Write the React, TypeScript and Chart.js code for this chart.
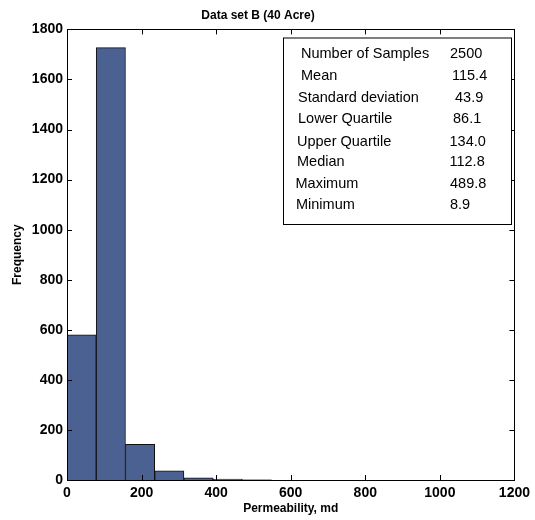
import React, { useEffect, useRef } from "react";
import { Chart, registerables } from "chart.js";

Chart.register(...registerables);

const binWidth = 78.4;
const binStarts = [0, 78.4, 156.8, 235.2, 313.6, 392.0, 470.4];
const frequencies = [580, 1727, 142, 37, 9, 4, 1];
const xTicks = [0, 200, 400, 600, 800, 1000, 1200];
const yTicks = [0, 200, 400, 600, 800, 1000, 1200, 1400, 1600, 1800];
const statLabels = [
  "Number of Samples",
  "Mean",
  "Standard deviation",
  "Lower Quartile",
  "Upper Quartile",
  "Median",
  "Maximum",
  "Minimum",
];
const statValues = ["2500", "115.4", "43.9", "86.1", "134.0", "112.8", "489.8", "8.9"];

const FONT = '"Liberation Sans", Arial, Helvetica, sans-serif';

const framePlugin = {
  id: "frame",
  afterDraw(chart: any) {
    const ctx = chart.ctx;
    const { left, right, top, bottom } = chart.chartArea;
    const xs = chart.scales.x;
    const ys = chart.scales.y;
    ctx.save();
    ctx.strokeStyle = "#000";
    ctx.lineWidth = 1;
    ctx.strokeRect(Math.round(left) + 0.5, Math.round(top) + 0.5, Math.round(right - left), Math.round(bottom - top));
    const tl = 5;
    ctx.beginPath();
    xs.ticks.forEach((t: any) => {
      const px = Math.round(xs.getPixelForValue(t.value)) + 0.5;
      ctx.moveTo(px, bottom);
      ctx.lineTo(px, bottom - tl);
      ctx.moveTo(px, top);
      ctx.lineTo(px, top + tl);
    });
    ys.ticks.forEach((t: any) => {
      const py = Math.round(ys.getPixelForValue(t.value)) + 0.5;
      ctx.moveTo(left, py);
      ctx.lineTo(left + tl, py);
      ctx.moveTo(right, py);
      ctx.lineTo(right - tl, py);
    });
    ctx.stroke();

    // statistics box
    const bx = 283, by = 37.5, bw = 228, bh = 186.5;
    ctx.fillStyle = "#fff";
    ctx.fillRect(bx, by, bw, bh);
    ctx.strokeRect(bx + 0.5, by + 0.5, bw, bh);
    ctx.fillStyle = "#000";
    ctx.font = `14.5px ${FONT}`;
    ctx.textBaseline = "middle";
    ctx.textAlign = "left";
    const labelX = [301, 301, 298, 298, 297, 297, 295.5, 296];
    const valueX = [450, 452, 455, 453, 449.5, 449.5, 450, 450];
    const rowY = [53.5, 76, 97.7, 118.7, 141.6, 161.6, 183.5, 205.2];
    statLabels.forEach((s, i) => {
      ctx.fillText(s, labelX[i], rowY[i]);
      ctx.fillText(statValues[i], valueX[i], rowY[i]);
    });
    ctx.restore();
  },
};

export default function App() {
  const ref = useRef<HTMLCanvasElement | null>(null);
  useEffect(() => {
    if (!ref.current) return;
    const chart = new Chart(ref.current, {
      type: "bar",
      data: {
        datasets: [
          {
            data: binStarts.map((s, i) => ({ x: s + binWidth / 2, y: frequencies[i] })),
            backgroundColor: "#4B6191",
            borderColor: "#111",
            borderWidth: 1,
            barPercentage: 1,
            categoryPercentage: 1,
          } as any,
        ],
      },
      plugins: [framePlugin],
      options: {
        responsive: false,
        animation: false,
        layout: { padding: { left: 0, right: 19, top: 0, bottom: 0 } },
        plugins: {
          legend: { display: false },
          tooltip: { enabled: false },
          title: {
            display: true,
            text: "Data set B (40 Acre)",
            color: "#000",
            font: { family: FONT, size: 12, weight: "bold" },
            padding: { top: 8, bottom: 7 },
          },
        },
        scales: {
          x: {
            type: "linear",
            offset: false,
            min: 0,
            max: 1200,
            afterBuildTicks: (scale: any) => {
              scale.ticks = xTicks.map((v) => ({ value: v }));
            },
            afterFit: (scale: any) => {
              scale.height = 40;
            },
            grid: { display: false, drawTicks: false, offset: false },
            border: { display: false },
            ticks: {
              color: "#000",
              padding: 5,
              maxRotation: 0,
              callback: (v: any) => String(v),
              font: { family: FONT, size: 14, weight: "bold" },
            },
            title: {
              display: true,
              text: "Permeability, md",
              color: "#000",
              font: { family: FONT, size: 12, weight: "bold" },
              padding: { top: 0, bottom: 4 },
            },
          },
          y: {
            type: "linear",
            min: 0,
            max: 1800,
            afterBuildTicks: (scale: any) => {
              scale.ticks = yTicks.map((v) => ({ value: v }));
            },
            afterFit: (scale: any) => {
              scale.width = 67;
            },
            grid: { display: false, drawTicks: false },
            border: { display: false },
            ticks: {
              color: "#000",
              padding: 4,
              callback: (v: any) => String(v),
              font: { family: FONT, size: 14, weight: "bold" },
            },
            title: {
              display: true,
              text: "Frequency",
              color: "#000",
              font: { family: FONT, size: 12, weight: "bold" },
              padding: { top: 10, bottom: 0 },
            },
          },
        },
      } as any,
    });
    return () => chart.destroy();
  }, []);
  return (
    <div style={{ position: "absolute", left: 0, top: 0, width: 535, height: 520, background: "#fff" }}>
      <canvas ref={ref} width={535} height={520} style={{ width: 535, height: 520, display: "block" }} />
    </div>
  );
}
